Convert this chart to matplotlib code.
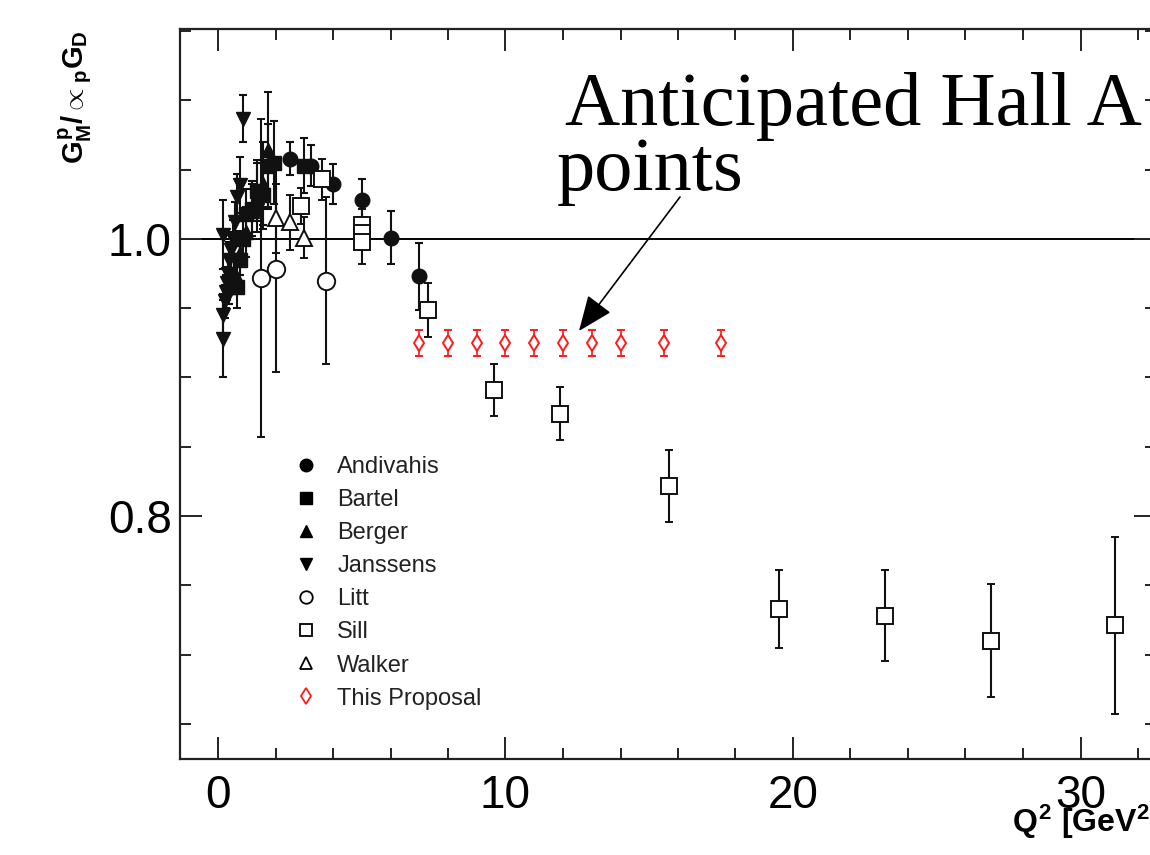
import matplotlib
matplotlib.use("Agg")
import matplotlib.pyplot as plt
from matplotlib.lines import Line2D
from matplotlib.ticker import MultipleLocator, FixedLocator

plt.rcParams['font.family'] = ['Liberation Sans', 'DejaVu Sans']
plt.rcParams['mathtext.fontset'] = 'custom'
plt.rcParams['mathtext.rm'] = 'Liberation Sans:bold'
plt.rcParams['mathtext.it'] = 'Liberation Sans:bold'
plt.rcParams['mathtext.bf'] = 'Liberation Sans:bold'

# ---------------- data ----------------
andivahis_q2 = [2.5, 3.25, 4.0, 5.0, 6.0, 7.0]
andivahis_r = [1.058, 1.053, 1.040, 1.028, 1.001, 0.973]
andivahis_e = [0.012, 0.015, 0.0145, 0.015, 0.019, 0.024]

bartel_q2 = [0.67, 0.78, 0.86, 0.97, 1.17, 1.36, 1.56, 1.75, 1.95, 3.0]
bartel_r = [0.965, 0.985, 1.000, 1.018, 1.022, 1.035, 1.032, 1.053, 1.055, 1.053]
bartel_e = [0.015, 0.015, 0.016, 0.018, 0.02, 0.022, 0.025, 0.03, 0.03, 0.02]

berger_q2 = [0.39, 0.58, 0.78, 0.97, 1.17, 1.36, 1.56, 1.75]
berger_r = [0.965, 0.975, 0.990, 1.005, 1.020, 1.030, 1.040, 1.064]
berger_e = [0.012, 0.014, 0.016, 0.018, 0.02, 0.025, 0.03, 0.042]

janssens_q2 = [0.16, 0.19, 0.17, 0.23, 0.27, 0.31, 0.35, 0.39, 0.45, 0.51, 0.58, 0.66, 0.76, 0.86]
janssens_r = [0.928, 0.945, 1.003, 0.955, 0.962, 0.968, 0.975, 0.985, 0.992, 1.000, 1.012, 1.030, 1.039, 1.087]
janssens_e = [0.028, 0.015, 0.025, 0.012, 0.012, 0.012, 0.012, 0.013, 0.013, 0.014, 0.015, 0.017, 0.02, 0.017]

litt_q2 = [1.5, 2.0, 3.75]
litt_r = [0.972, 0.978, 0.970]
litt_e = [0.115, 0.074, 0.06]

sill_q2 = [2.9, 3.6, 5.0, 5.0, 5.0, 7.3, 9.6, 11.9, 15.7, 19.5, 23.2, 26.9, 31.2]
sill_r = [1.024, 1.043, 1.010, 1.004, 0.998, 0.949, 0.891, 0.874, 0.822, 0.733, 0.728, 0.710, 0.721]
sill_e = [0.013, 0.015, 0.012, 0.012, 0.016, 0.0195, 0.019, 0.019, 0.026, 0.028, 0.033, 0.041, 0.064]

walker_q2 = [2.0, 2.5, 3.0]
walker_r = [1.015, 1.012, 1.001]
walker_e = [0.025, 0.02, 0.015]

proposal_q2 = [7, 8, 9, 10, 11, 12, 13, 14, 15.5, 17.5]
proposal_r = [0.925] * 10
proposal_e = [0.0095] * 10

# ---------------- figure ----------------
W, H = 1150, 855
fig = plt.figure(figsize=(W / 100, H / 100), dpi=100)

px_per_x = 28.75
x0_px = 218
left_px, right_px = 180, 1156
top_px, bot_px = 29, 759
xmin = (left_px - x0_px) / px_per_x
xmax = (right_px - x0_px) / px_per_x
py_per_y = 1385.0
ymin = 1.0 - (bot_px - 239) / py_per_y
ymax = 1.0 + (239 - top_px) / py_per_y

ax = fig.add_axes([left_px / W, 1 - bot_px / H, (right_px - left_px) / W, (bot_px - top_px) / H])
ax.set_xlim(xmin, xmax)
ax.set_ylim(ymin, ymax)

ax.axhline(1.0, color='black', lw=1.4, zorder=1)

lw = 1.5
cs = 3.0
common = dict(ls='none', elinewidth=lw, capsize=cs, capthick=lw, zorder=3)
ecol = '#111111'

ax.errorbar(janssens_q2, janssens_r, yerr=janssens_e, fmt='v', ms=10, color=ecol, **common)
ax.errorbar(berger_q2, berger_r, yerr=berger_e, fmt='^', ms=10, color=ecol, **common)
ax.errorbar(bartel_q2, bartel_r, yerr=bartel_e, fmt='s', ms=10, color=ecol, **common)
ax.errorbar(andivahis_q2, andivahis_r, yerr=andivahis_e, fmt='o', ms=10.5, color=ecol, **common)
ax.errorbar(litt_q2, litt_r, yerr=litt_e, fmt='o', ms=12.5, color=ecol, mfc='white', mew=1.4, **common)
ax.errorbar(walker_q2, walker_r, yerr=walker_e, fmt='^', ms=11, color=ecol, mfc='white', mew=1.4, **common)
ax.errorbar(sill_q2, sill_r, yerr=sill_e, fmt='s', ms=12, color=ecol, mfc='white', mew=1.4, **common)
ax.errorbar(proposal_q2, proposal_r, yerr=proposal_e, fmt='d', ms=8.5, color='#ff1a1a', mfc='white', mew=1.4,
            ls='none', elinewidth=1.2, capsize=2.8, capthick=1.2, zorder=4)

# ticks
ax.xaxis.set_major_locator(MultipleLocator(10))
ax.xaxis.set_minor_locator(MultipleLocator(2))
ax.yaxis.set_major_locator(FixedLocator([0.6, 0.8, 1.0]))
ax.yaxis.set_minor_locator(MultipleLocator(0.05))
ax.set_yticklabels(['0.6', '0.8', '1.0'])
ax.tick_params(which='both', direction='in', top=True, right=True, width=1.4, color='#222222')
ax.tick_params(which='major', length=16, labelsize=33)
ax.tick_params(which='minor', length=8)
ax.tick_params(axis='x', pad=11)
ax.tick_params(axis='y', pad=6)
for s in ax.spines.values():
    s.set_linewidth(1.6)
    s.set_color('#222222')

# legend
handles = [
    Line2D([], [], ls='none', marker='o', ms=9, color='black'),
    Line2D([], [], ls='none', marker='s', ms=8, color='black'),
    Line2D([], [], ls='none', marker='^', ms=8, color='black'),
    Line2D([], [], ls='none', marker='v', ms=8, color='black'),
    Line2D([], [], ls='none', marker='o', ms=9, color='black', mfc='white', mew=1.3),
    Line2D([], [], ls='none', marker='s', ms=9, color='black', mfc='white', mew=1.3),
    Line2D([], [], ls='none', marker='^', ms=9, color='black', mfc='white', mew=1.3),
    Line2D([], [], ls='none', marker='d', ms=8.5, color='#ff1a1a', mfc='white', mew=1.3),
]
labels = ['Andivahis', 'Bartel', 'Berger', 'Janssens', 'Litt', 'Sill', 'Walker', 'This Proposal']
leg = fig.legend(handles, labels, loc='upper left', bbox_to_anchor=(297 / W, 1 - 456 / H),
                 frameon=False, fontsize=17, handlelength=0.8, handletextpad=0.9,
                 labelspacing=0.47, borderpad=0, borderaxespad=0)
for t in leg.get_texts():
    t.set_color('#222222')

# annotation
x_tip = (579 - x0_px) / px_per_x
y_tip = 1.0 - (331 - 239) / py_per_y
x_tail = (680 - x0_px) / px_per_x
y_tail = 1.0 - (197 - 239) / py_per_y
ax.annotate('', xy=(x_tip, y_tip), xytext=(x_tail, y_tail),
            arrowprops=dict(arrowstyle='-|>,head_length=1.1,head_width=0.45', mutation_scale=20,
                            lw=1.2, color='black', shrinkA=0, shrinkB=0), zorder=5)

fig.text(565 / W, 1 - 125 / H, 'Anticipated Hall A', family=['Liberation Serif', 'DejaVu Serif'],
         fontsize=55, ha='left', va='baseline')
fig.text(557 / W, 1 - 190 / H, 'points', family=['Liberation Serif', 'DejaVu Serif'],
         fontsize=55, ha='left', va='baseline')

# axis titles
fig.text(75 / W, 1 - 97 / H, r'$G^{p}_{M}/\propto_{p}G_{D}$', rotation=90, fontsize=21,
         ha='center', va='center')
fig.text(1012 / W, 1 - 832 / H, r'$Q^{2}$ [GeV$^{2}$]', fontsize=23, fontweight='bold',
         ha='left', va='baseline')

fig.savefig('out.png', dpi=100)
